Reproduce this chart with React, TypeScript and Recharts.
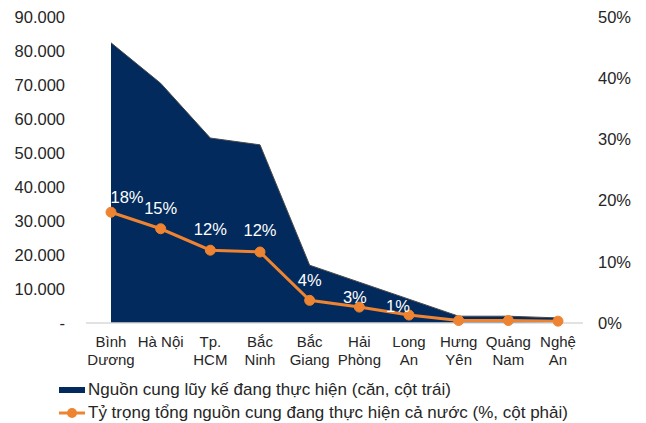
import React from "react";
import { Area, ComposedChart, Line, XAxis, YAxis } from "recharts";

const provinces = [
  ["Bình", "Dương"],
  ["Hà Nội"],
  ["Tp.", "HCM"],
  ["Bắc", "Ninh"],
  ["Bắc", "Giang"],
  ["Hải", "Phòng"],
  ["Long", "An"],
  ["Hưng", "Yên"],
  ["Quảng", "Nam"],
  ["Nghệ", "An"]
];
const supply = [82400, 70500, 54400, 52400, 17000, 12000, 7000, 2000, 2000, 1500];
const share = [18.1, 15.4, 11.9, 11.6, 3.7, 2.6, 1.3, 0.4, 0.4, 0.3];
const shareLabels = ["18%", "15%", "12%", "12%", "4%", "3%", "1%", "", "", ""];
const leftTicks = [0, 10000, 20000, 30000, 40000, 50000, 60000, 70000, 80000, 90000];
const rightTicks = [0, 10, 20, 30, 40, 50];

const legendItems = [
  "Nguồn cung lũy kế đang thực hiện (căn, cột trái)",
  "Tỷ trọng tổng nguồn cung đang thực hiện cả nước (%, cột phải)"
];

const NAVY = "#022a5c";
const ORANGE = "#ee8431";
const TEXT = "#262626";
const FONT = "'Liberation Sans', Arial, sans-serif";

// label nudges (dx, dy) relative to each point, as placed in the original
const labelNudge = [
  [16, -15.5],
  [0, -20.5],
  [0, -21],
  [0, -22],
  [0, -20],
  [-4.5, -10.5],
  [-11, -9]
];

const rows = provinces.map((p, i) => ({
  name: p.join(" "),
  supply: supply[i],
  share: share[i]
}));

function CategoryTick(props: any) {
  const { x, y, index } = props;
  const lines = provinces[index] || [];
  return (
    <text x={x} y={y} textAnchor="middle" fill={TEXT} fontSize={15} fontFamily={FONT}>
      {lines.map((l, i) => (
        <tspan key={i} x={x} dy={i === 0 ? 24 : 18}>
          {l}
        </tspan>
      ))}
    </text>
  );
}

function ShareLabel(props: any) {
  const { x, y, index } = props;
  const text = shareLabels[index];
  if (!text) return null;
  const [dx, dy] = labelNudge[index] || [0, -20];
  return (
    <text
      x={x + dx}
      y={y + dy}
      textAnchor="middle"
      dominantBaseline="central"
      fill="#ffffff"
      fontSize={16.5}
      fontFamily={FONT}
    >
      {text}
    </text>
  );
}

const fmtLeft = (v: number) => (v === 0 ? "-" : v.toLocaleString("de-DE"));

export default function App() {
  return (
    <div style={{ position: "absolute", left: 0, top: 0, width: 646, height: 423, background: "#fff" }}>
      <ComposedChart
        width={646}
        height={423}
        data={rows}
        margin={{ top: 17, right: 0, bottom: 0, left: 0 }}
        style={{ fontFamily: FONT }}
      >
        <XAxis
          dataKey="name"
          height={100}
          interval={0}
          padding={{ left: 25, right: 25 }}
          tickLine={false}
          tickSize={0}
          tickMargin={0}
          axisLine={{ stroke: "#d9d9d9", strokeWidth: 1.5 }}
          tick={<CategoryTick />}
        />
        <YAxis
          yAxisId="left"
          width={86}
          domain={[0, 90000]}
          ticks={leftTicks}
          axisLine={false}
          tickLine={false}
          tickSize={0}
          tickMargin={21}
          tickFormatter={fmtLeft}
          tick={{ fill: TEXT, fontSize: 16.5 }}
        />
        <YAxis
          yAxisId="right"
          orientation="right"
          width={63}
          domain={[0, 50]}
          ticks={rightTicks}
          axisLine={false}
          tickLine={false}
          tickSize={0}
          tickMargin={15}
          tickFormatter={(v: number) => `${v}%`}
          tick={{ fill: TEXT, fontSize: 16.5 }}
        />
        <Area
          yAxisId="left"
          type="linear"
          dataKey="supply"
          fill={NAVY}
          fillOpacity={1}
          stroke="#4a4a4a"
          strokeWidth={1}
          isAnimationActive={false}
        />
        <Line
          yAxisId="right"
          type="linear"
          dataKey="share"
          stroke={ORANGE}
          strokeWidth={3}
          dot={{ r: 5, fill: ORANGE, stroke: ORANGE, strokeWidth: 1 }}
          label={<ShareLabel />}
          isAnimationActive={false}
        />
      </ComposedChart>
      <div
        style={{
          position: "absolute",
          left: 59,
          top: 378,
          fontFamily: FONT,
          fontSize: 17,
          color: TEXT,
          lineHeight: "23px"
        }}
      >
        {legendItems.map((t, i) => (
          <div key={t} style={{ display: "flex", alignItems: "center", whiteSpace: "nowrap" }}>
            <svg width={29} height={14}>
              {i === 0 ? (
                <rect x={0} y={4} width={26} height={6} fill={NAVY} />
              ) : (
                <g>
                  <line x1={0} y1={7} x2={26} y2={7} stroke={ORANGE} strokeWidth={3} />
                  <circle cx={13} cy={7} r={5} fill={ORANGE} />
                </g>
              )}
            </svg>
            <span>{t}</span>
          </div>
        ))}
      </div>
    </div>
  );
}
